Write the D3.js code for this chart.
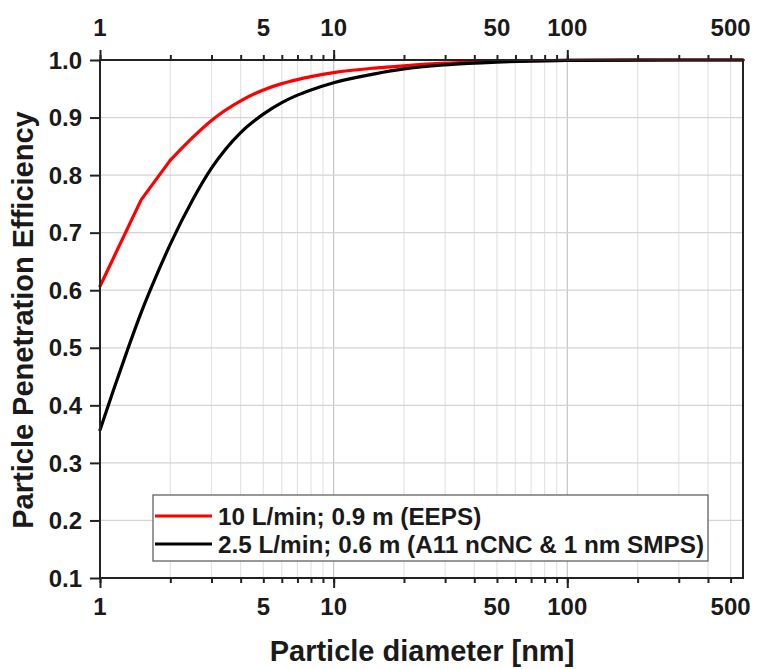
<!DOCTYPE html>
<html>
<head>
<meta charset="utf-8">
<script src="https://cdnjs.cloudflare.com/ajax/libs/d3/7.8.5/d3.min.js"></script>
<style>
    body { margin: 0; background: #fff; }
    svg text { font-family: "Liberation Sans", Arial, sans-serif; font-weight: bold; fill: #1a1a1a; }
</style>
</head>
<body>
<div id="chart"></div>
<script>
// particle diameter [nm] and penetration efficiency
var redDiam = [1, 1.5, 2, 2.5, 3, 4, 5, 6, 7, 8, 10, 15, 20, 30, 50, 70, 100, 200, 565];
var redEff = [0.607, 0.757, 0.826, 0.866, 0.895, 0.929, 0.948, 0.959, 0.966, 0.971, 0.978, 0.986, 0.990, 0.9945, 0.9975, 0.9987, 0.9995, 1.0, 1.0];

var blackDiam = [1, 1.15, 1.3, 1.5, 1.75, 2, 2.5, 3, 4, 5, 6, 7, 8, 10, 15, 20, 30, 50, 70, 100, 200, 565];
var blackEff = [0.357, 0.43, 0.492, 0.561, 0.627, 0.68, 0.758, 0.812, 0.874, 0.906, 0.926, 0.939, 0.948, 0.9606, 0.976, 0.9845, 0.9915, 0.9964, 0.9982, 0.9992, 0.9999, 1.0];

var seriesNames = ['10 L/min; 0.9 m (EEPS)', '2.5 L/min; 0.6 m (A11 nCNC & 1 nm SMPS)'];
var seriesColors = ['#ff0000', '#000000'];

var xLabelVals = [1, 5, 10, 50, 100, 500];
var yTickVals = [0.1, 0.2, 0.3, 0.4, 0.5, 0.6, 0.7, 0.8, 0.9, 1.0];

var W = 757, H = 669;
var margin = {left: 100, right: 14, top: 60, bottom: 91};

var svg = d3.select('#chart').append('svg').attr('width', W).attr('height', H);

var x = d3.scaleLog().domain([1, 565]).range([margin.left, W - margin.right]);
var y = d3.scaleLinear().domain([0.1, 1.0]).range([H - margin.bottom, margin.top]);

// every minor value 1..9 per decade
var minorVals = [];
[1, 10, 100].forEach(function(dec) {
    for (var k = 1; k < 10; k++) {
        var v = dec * k;
        if (v <= 565) minorVals.push(v);
    }
});
var majorVals = [1, 10, 100];

var grid = svg.append('g');
grid.selectAll('.vg').data(minorVals).enter().append('line')
    .attr('x1', function(d) { return x(d); }).attr('x2', function(d) { return x(d); })
    .attr('y1', y(0.1)).attr('y2', y(1.0))
    .attr('stroke', function(d) { return majorVals.indexOf(d) > -1 ? '#c4c4c4' : '#e4e4e4'; })
    .attr('stroke-width', 1.2);
grid.selectAll('.hg').data(yTickVals).enter().append('line')
    .attr('x1', x(1)).attr('x2', x(565))
    .attr('y1', function(d) { return y(d); }).attr('y2', function(d) { return y(d); })
    .attr('stroke', '#d4d4d4').attr('stroke-width', 1.2);

// curves
function drawLine(pts, col, curve) {
    var line = d3.line()
        .x(function(d) { return x(d[0]); })
        .y(function(d) { return y(d[1]); })
        .curve(curve);
    svg.append('path').datum(pts)
        .attr('d', line)
        .attr('fill', 'none')
        .attr('stroke', col)
        .attr('stroke-width', 3.2)
        .attr('stroke-linejoin', 'round')
        .attr('stroke-linecap', 'round');
}
var redPts = redDiam.map(function(d, i) { return [d, redEff[i]]; });
var blackPts = blackDiam.map(function(d, i) { return [d, blackEff[i]]; });
// red one is straight pieces up to 2 nm, smooth after
drawLine(redPts.filter(function(p) { return p[0] <= 2; }), seriesColors[0], d3.curveLinear);
drawLine(redPts.filter(function(p) { return p[0] >= 2; }), seriesColors[0], d3.curveMonotoneX);
drawLine(blackPts, seriesColors[1], d3.curveMonotoneX);

// axes
var axisCol = '#222';
function styleAxis(g) {
    g.select('.domain').remove();
    g.selectAll('.tick line').attr('stroke', axisCol).attr('stroke-width', 2);
    g.selectAll('.tick text').remove();
}

var xBottomMinor = d3.axisBottom(x).tickValues(minorVals).tickSize(5).tickFormat('');
var xBottomMajor = d3.axisBottom(x).tickValues(majorVals).tickSize(10).tickFormat('');
var xTopMinor = d3.axisTop(x).tickValues(minorVals).tickSize(5).tickFormat('');
var xTopMajor = d3.axisTop(x).tickValues(majorVals).tickSize(10).tickFormat('');
var yLeft = d3.axisLeft(y).tickValues(yTickVals).tickSize(10).tickFormat('');

[[xBottomMinor, 'translate(0,' + y(0.1) + ')'], [xBottomMajor, 'translate(0,' + y(0.1) + ')'],
 [xTopMinor, 'translate(0,' + y(1.0) + ')'], [xTopMajor, 'translate(0,' + y(1.0) + ')'],
 [yLeft, 'translate(' + x(1) + ',0)']].forEach(function(a) {
    svg.append('g').attr('transform', a[1]).call(a[0]).call(styleAxis);
});

// frame
svg.append('rect')
    .attr('x', x(1)).attr('y', y(1.0))
    .attr('width', x(565) - x(1)).attr('height', y(0.1) - y(1.0))
    .attr('fill', 'none').attr('stroke', axisCol).attr('stroke-width', 2);

// tick labels
svg.selectAll('.xlb').data(xLabelVals).enter().append('text')
    .attr('x', function(d) { return x(d); }).attr('y', y(0.1) + 37)
    .attr('text-anchor', 'middle').attr('font-size', 24)
    .text(function(d) { return d; });
svg.selectAll('.xlt').data(xLabelVals).enter().append('text')
    .attr('x', function(d) { return x(d); }).attr('y', y(1.0) - 24)
    .attr('text-anchor', 'middle').attr('font-size', 24)
    .text(function(d) { return d; });
svg.selectAll('.ylb').data(yTickVals).enter().append('text')
    .attr('x', x(1) - 18).attr('y', function(d) { return y(d); })
    .attr('dy', '0.36em')
    .attr('text-anchor', 'end').attr('font-size', 24)
    .text(function(d) { return d3.format('.1f')(d); });

// axis titles
svg.append('text')
    .attr('x', 422).attr('y', 661)
    .attr('text-anchor', 'middle').attr('font-size', 29)
    .text('Particle diameter [nm]');
svg.append('text')
    .attr('transform', 'translate(33,320) rotate(-90)')
    .attr('text-anchor', 'middle').attr('font-size', 29)
    .text('Particle Penetration Efficiency');

// legend
var lg = svg.append('g');
lg.append('rect').attr('x', 153).attr('y', 495).attr('width', 555).attr('height', 66)
    .attr('fill', '#fff').attr('stroke', '#555').attr('stroke-width', 1.2);
seriesNames.forEach(function(name, i) {
    var ly = 516 + i * 28;
    lg.append('line').attr('x1', 155).attr('x2', 212).attr('y1', ly).attr('y2', ly)
        .attr('stroke', seriesColors[i]).attr('stroke-width', 3.2);
    lg.append('text').attr('x', 218).attr('y', ly).attr('dy', '0.36em')
        .attr('font-size', 24.3).text(name);
});
</script>
</body>
</html>
